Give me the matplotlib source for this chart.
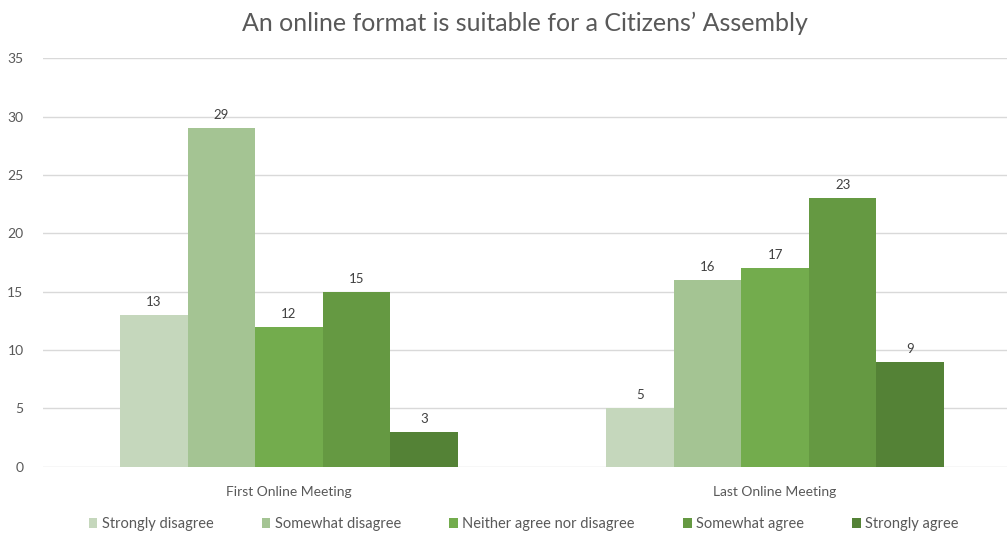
import matplotlib.pyplot as plt
import numpy as np

plt.rcParams['font.family'] = ['Lato', 'DejaVu Sans']

# Data
meetings = ['First Online Meeting', 'Last Online Meeting']
responses = ['Strongly disagree', 'Somewhat disagree', 'Neither agree nor disagree',
             'Somewhat agree', 'Strongly agree']
strongly_disagree = [13, 5]
somewhat_disagree = [29, 16]
neither = [12, 17]
somewhat_agree = [15, 23]
strongly_agree = [3, 9]
counts = [strongly_disagree, somewhat_disagree, neither, somewhat_agree, strongly_agree]
colors = ['#C5D7BC', '#A4C493', '#73AC4D', '#659942', '#548236']

fig = plt.figure(figsize=(10.07, 5.36), dpi=100)
ax = fig.add_axes([43 / 1007, (536 - 466.7) / 536, 964 / 1007, (466.7 - 58.3) / 536])

x = np.arange(len(meetings))
w = 0.139
for i, (resp, vals) in enumerate(zip(responses, counts)):
    pos = x + (i - 2) * w
    bars = ax.bar(pos, vals, width=w, color=colors[i], label=resp, zorder=3)
    for b, v in zip(bars, vals):
        ax.text(b.get_x() + b.get_width() / 2, v + 0.6, str(v), ha='center', va='bottom',
                fontsize=9.5, color='#404040')

ax.set_xlim(-0.506, 1.477)
ax.set_ylim(0, 35)
ax.set_yticks(range(0, 36, 5))
ax.set_xticks(x)
ax.set_xticklabels(meetings, fontsize=10, color='#595959')
ax.tick_params(axis='y', labelsize=10, labelcolor='#595959', length=0, pad=14)
ax.tick_params(axis='x', length=0, pad=14)
ax.grid(axis='y', color='#D9D9D9', linewidth=1, zorder=0)
for s in ax.spines.values():
    s.set_visible(False)

ax.set_title('An online format is suitable for a Citizens\u2019 Assembly', fontsize=18,
             color='#595959', pad=20)

fig.legend(loc='center', bbox_to_anchor=(0.52, (536 - 524) / 536), ncol=5, frameon=False,
           fontsize=10.5, handlelength=0.6, handleheight=0.7, handletextpad=0.3,
           columnspacing=3.3, labelcolor='#595959')

fig.savefig('out.png', dpi=100)
